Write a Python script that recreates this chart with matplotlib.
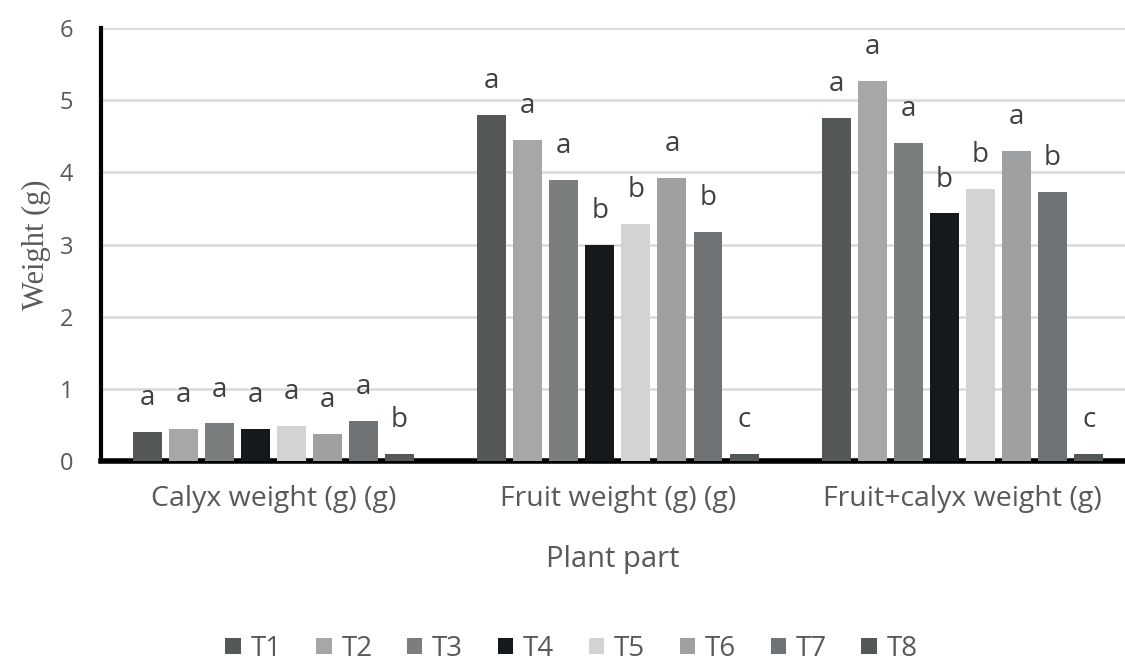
import numpy as np
import matplotlib.pyplot as plt

# data
categories = ["Calyx weight (g) (g)", "Fruit weight (g) (g)", "Fruit+calyx weight (g)"]
treatments = ["T1", "T2", "T3", "T4", "T5", "T6", "T7", "T8"]

calyx = [0.40, 0.44, 0.52, 0.44, 0.48, 0.37, 0.56, 0.10]
fruit = [4.79, 4.45, 3.89, 2.99, 3.29, 3.92, 3.18, 0.10]
fruit_calyx = [4.75, 5.27, 4.41, 3.43, 3.77, 4.30, 3.73, 0.10]

calyx_letters = ["a", "a", "a", "a", "a", "a", "a", "b"]
fruit_letters = ["a", "a", "a", "b", "b", "a", "b", "c"]
fruit_calyx_letters = ["a", "a", "a", "b", "b", "a", "b", "c"]

colors = ["#555859", "#a5a7a8", "#7b7e7f", "#16191b",
          "#d2d3d3", "#9ea0a1", "#707375", "#555859"]

plt.rcParams['font.family'] = ['Open Sans', 'DejaVu Sans']
text_color = "#595959"

values = np.array([calyx, fruit, fruit_calyx])      # shape (3 groups, 8 treatments)
letters = [calyx_letters, fruit_letters, fruit_calyx_letters]

fig = plt.figure(figsize=(11.25, 6.62), dpi=100)
ax = fig.add_axes([0.0898, 0.3036, 0.9102, 0.6541])

xIndexes = np.arange(len(categories))
step = 0.1047
width = 0.084
offsets = (np.arange(len(treatments)) - 3.5) * step

for i, name in enumerate(treatments):
    ax.bar(xIndexes + offsets[i], values[:, i], width, color=colors[i], label=name, zorder=3)
    for g in range(len(categories)):
        ax.text(xIndexes[g] + offsets[i], values[g, i] + 0.47, letters[g][i],
                ha="center", va="center", fontsize=20, color="#404040", zorder=4)

ax.set_ylim(0, 6)
ax.set_xlim(-0.5, 2.472)
ax.set_yticks(range(7))
ax.grid(axis="y", color="#d9d9d9", linewidth=1.8, zorder=0)
ax.set_axisbelow(True)

for s in ["top", "right"]:
    ax.spines[s].set_visible(False)
ax.spines["left"].set_linewidth(3)
ax.spines["bottom"].set_linewidth(4)
ax.spines["left"].set_color("black")
ax.spines["bottom"].set_color("black")

ax.set_xticks(xIndexes, categories)
ax.tick_params(axis="y", length=0, pad=20, labelsize=17, labelcolor=text_color)
ax.tick_params(axis="x", length=0, pad=17, labelsize=20.5, labelcolor=text_color)

ax.set_ylabel("Weight (g)", family="Liberation Serif", fontsize=22, color=text_color, labelpad=6)
ax.set_xlabel("Plant part", fontsize=21, color=text_color, labelpad=23)

fig.legend(loc="center", bbox_to_anchor=(0.508, 0.02), ncol=8, frameon=False,
           fontsize=20, labelcolor=text_color, handlelength=0.55, handleheight=0.55,
           handletextpad=0.35, columnspacing=1.25)

plt.savefig("out.png", dpi=100)
